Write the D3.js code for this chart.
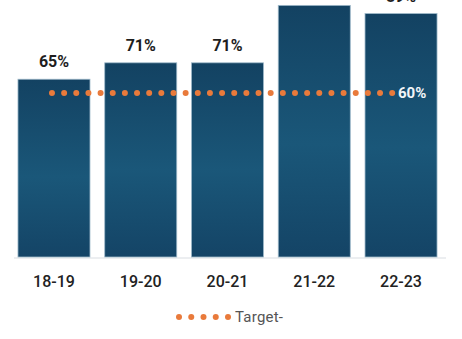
<!DOCTYPE html>
<html>
<head>
<meta charset="utf-8">
<script src="https://cdn.jsdelivr.net/npm/d3@7/dist/d3.min.js"></script>
<style>
  html, body { margin: 0; padding: 0; background: #ffffff; }
  svg { display: block; }
</style>
</head>
<body>
<svg id="chart" width="462" height="339"></svg>
<script>
// Share of the year meeting the goal, by academic year
const years = ["18-19", "19-20", "20-21", "21-22", "22-23"];
const rates = [65, 71, 71, 92, 89];
const target = 60;
const legendLabel = "Target-";

const W = 462, H = 339;
const baseY = 257;
const pxPerPct = 2.735;

const svg = d3.select("#chart");

const x = d3.scaleBand()
  .domain(years)
  .range([10.6, 444.4])
  .paddingInner(0.17)
  .paddingOuter(0.085);

const y = d3.scaleLinear()
  .domain([0, 100])
  .range([baseY, baseY - 100 * pxPerPct]);

// Bar fill: darker at the ends, lighter through the middle
const defs = svg.append("defs");
const grad = defs.append("linearGradient")
  .attr("id", "barFill")
  .attr("x1", 0).attr("y1", 0).attr("x2", 0).attr("y2", 1);
grad.append("stop").attr("offset", "0%").attr("stop-color", "#134262");
grad.append("stop").attr("offset", "55%").attr("stop-color", "#1a5779");
grad.append("stop").attr("offset", "100%").attr("stop-color", "#144466");

// Baseline
svg.append("line")
  .attr("x1", 14).attr("x2", 446)
  .attr("y1", baseY + 1).attr("y2", baseY + 1)
  .attr("stroke", "#d9dde2").attr("stroke-width", 1);

// Bars
svg.append("g").selectAll("rect")
  .data(years)
  .join("rect")
  .attr("x", d => x(d))
  .attr("y", (d, i) => y(rates[i]))
  .attr("width", x.bandwidth())
  .attr("height", (d, i) => y(0) - y(rates[i]))
  .attr("fill", "url(#barFill)")
  .attr("stroke", "#9db8c9")
  .attr("stroke-width", 0.8);

// Value labels above bars
svg.append("g").selectAll("text")
  .data(years)
  .join("text")
  .attr("x", d => x(d) + x.bandwidth() / 2)
  .attr("y", (d, i) => y(rates[i]) - 12)
  .attr("text-anchor", "middle")
  .attr("font-family", "Roboto, 'Noto Sans', sans-serif")
  .attr("font-weight", 700)
  .attr("font-size", 16)
  .attr("fill", "#1e1e1e")
  .text((d, i) => rates[i] + "%");

// Target line (dotted)
const cx0 = x(years[0]) + x.bandwidth() / 2;
const cxN = x(years[years.length - 1]) + x.bandwidth() / 2;
svg.append("line")
  .attr("x1", cx0 - 2).attr("x2", cxN - 8)
  .attr("y1", y(target)).attr("y2", y(target))
  .attr("stroke", "#e97a3b")
  .attr("stroke-width", 6)
  .attr("stroke-linecap", "round")
  .attr("stroke-dasharray", "0 12.15");

svg.append("text")
  .attr("x", cxN - 3)
  .attr("y", y(target) + 5.5)
  .attr("font-family", "Roboto, 'Noto Sans', sans-serif")
  .attr("font-weight", 700)
  .attr("font-size", 15)
  .attr("fill", "#f2f5f8")
  .text(target + "%");

// Category axis labels
svg.append("g").selectAll("text")
  .data(years)
  .join("text")
  .attr("x", d => x(d) + x.bandwidth() / 2)
  .attr("y", 287)
  .attr("text-anchor", "middle")
  .attr("font-family", "Roboto, 'Noto Sans', sans-serif")
  .attr("font-weight", 500)
  .attr("font-size", 16)
  .attr("fill", "#222222")
  .text(d => d);

// Legend: five dots followed by the series name
const legend = svg.append("g");
legend.selectAll("circle")
  .data(d3.range(5))
  .join("circle")
  .attr("cx", i => 179 + i * 12.25)
  .attr("cy", 317)
  .attr("r", 3)
  .attr("fill", "#e97a3b");
legend.append("text")
  .attr("x", 235)
  .attr("y", 322)
  .attr("font-family", "Roboto, 'Noto Sans', sans-serif")
  .attr("font-size", 15)
  .attr("fill", "#555555")
  .attr("textLength", 48)
  .text(legendLabel);
</script>
</body>
</html>
